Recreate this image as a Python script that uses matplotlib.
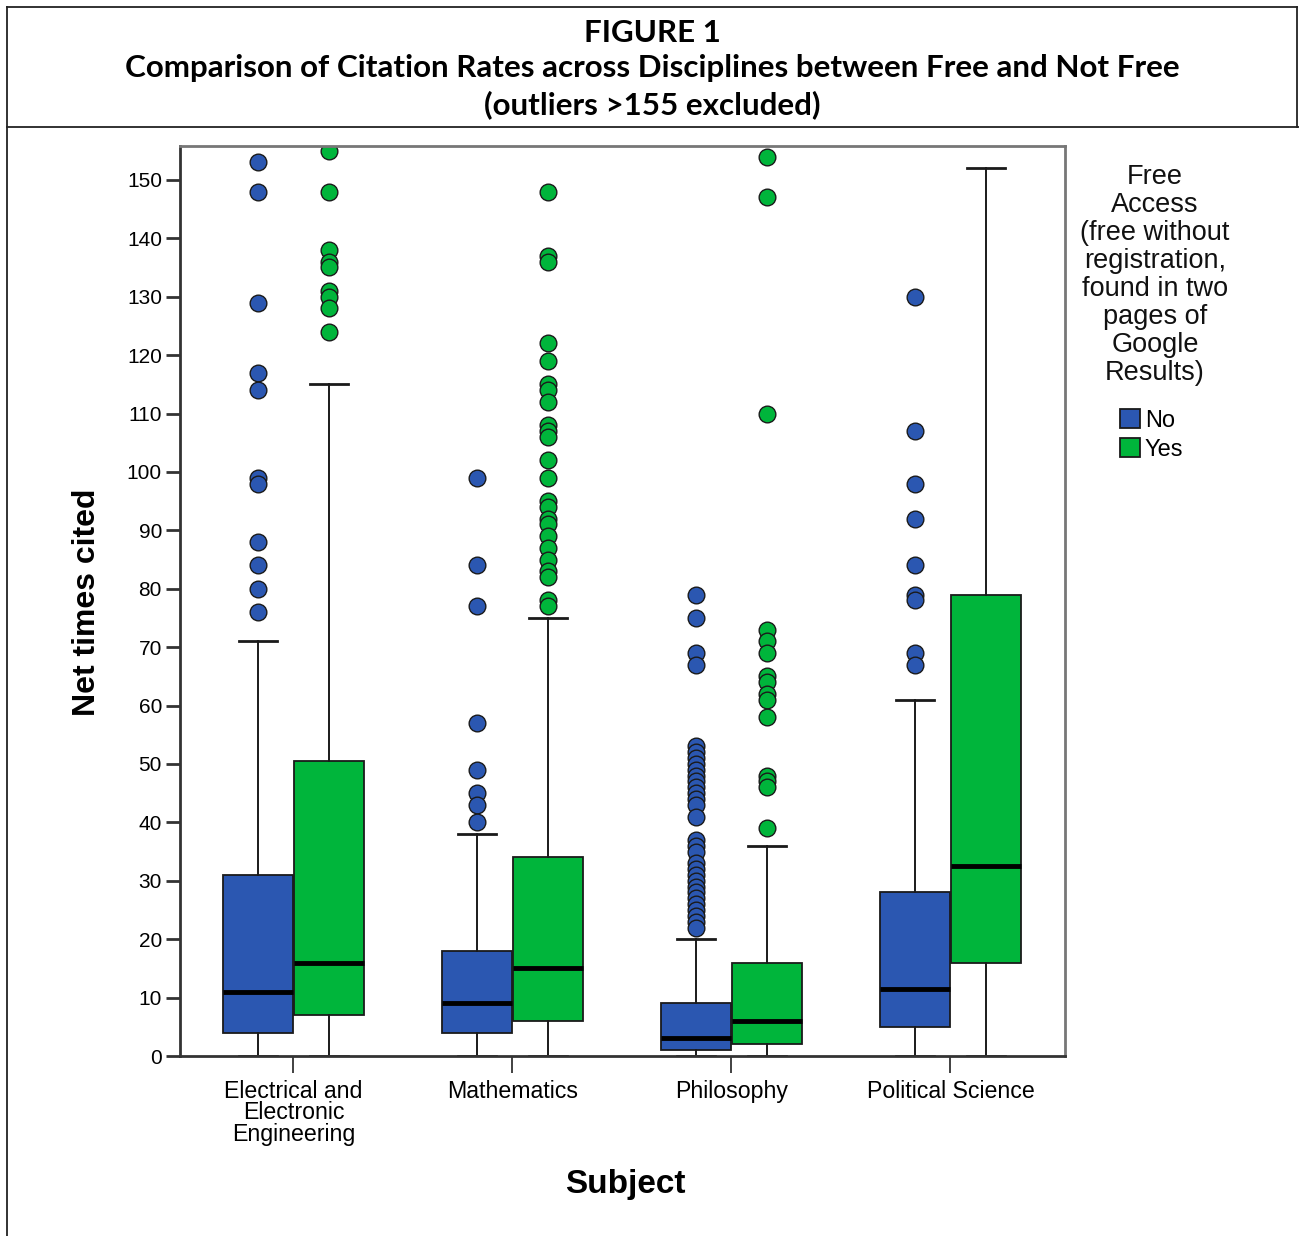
import matplotlib
matplotlib.use("Agg")
import matplotlib.pyplot as plt
from matplotlib.lines import Line2D
from matplotlib.patches import Patch

plt.rcParams.update({
    "font.family": ["Liberation Sans", "DejaVu Sans"],
})

# ── Data ─────────────────────────────────────────────────────────────────────
CATEGORIES = ["Electrical and\nElectronic\nEngineering", "Mathematics",
              "Philosophy", "Political Science"]

NO_Q1 = [4, 4, 1, 5]
NO_MED = [11, 9, 3, 11.5]
NO_Q3 = [31, 18, 9, 28]
NO_LO = [0, 0, 0, 0]
NO_HI = [71, 38, 20, 61]
NO_FLIERS = [
    [153, 148, 129, 117, 114, 99, 98, 88, 84, 80, 76],
    [99, 84, 77, 57, 49, 45, 43, 40],
    [79, 75, 69, 67, 53, 52, 51, 50, 49, 48, 47, 46, 45, 44, 43, 41,
     37, 36, 35, 33, 32, 31, 30, 29, 28, 27, 26, 25, 24, 23, 22],
    [130, 107, 98, 92, 84, 79, 78, 69, 67],
]

YES_Q1 = [7, 6, 2, 16]
YES_MED = [16, 15, 6, 32.5]
YES_Q3 = [50.5, 34, 16, 79]
YES_LO = [0, 0, 0, 0]
YES_HI = [115, 75, 36, 152]
YES_FLIERS = [
    [155, 148, 138, 136, 135, 131, 130, 128, 124],
    [148, 137, 136, 122, 119, 115, 114, 112, 108, 107, 106, 102, 99, 95,
     94, 92, 91, 89, 87, 85, 83, 82, 78, 77],
    [154, 147, 110, 73, 71, 69, 65, 64, 62, 61, 58, 48, 47, 46, 39],
    [],
]

SERIES = ["No", "Yes"]
LEGEND_TITLE = ("Free\nAccess\n(free without\nregistration,\nfound in two\n"
                "pages of\nGoogle\nResults)")
BLUE = "#2B57B1"
GREEN = "#00B53B"
EDGE = "#1a1a1a"


def make_stats(q1, med, q3, lo, hi, fliers):
    return [dict(q1=a, med=b, q3=c, whislo=d, whishi=e, fliers=f)
            for a, b, c, d, e, f in zip(q1, med, q3, lo, hi, fliers)]


stats_no = make_stats(NO_Q1, NO_MED, NO_Q3, NO_LO, NO_HI, NO_FLIERS)
stats_yes = make_stats(YES_Q1, YES_MED, YES_Q3, YES_LO, YES_HI, YES_FLIERS)

# ── Figure ───────────────────────────────────────────────────────────────────
W, H = 1299, 1236
fig = plt.figure(figsize=(W / 100, H / 100), dpi=100, facecolor="white")
ax = fig.add_axes([180 / W, 1 - 1056 / H, (1065 - 180) / W, (1056 - 146) / H])

OFFSET = 0.162
BOXW = 0.322
centers = list(range(len(CATEGORIES)))

for stats, color, off in ((stats_no, BLUE, -OFFSET), (stats_yes, GREEN, OFFSET)):
    ax.bxp(stats, positions=[c + off for c in centers], widths=BOXW,
           capwidths=0.17, patch_artist=True, manage_ticks=False,
           boxprops=dict(facecolor=color, edgecolor=EDGE, linewidth=1.3),
           medianprops=dict(color="black", linewidth=3.5),
           whiskerprops=dict(color=EDGE, linewidth=1.4),
           capprops=dict(color=EDGE, linewidth=2.0),
           flierprops=dict(marker="o", markersize=12, markerfacecolor=color,
                           markeredgecolor=EDGE, markeredgewidth=1.0,
                           linestyle="none"))

ax.set_xlim(-0.518, 3.523)
ax.set_ylim(0, 155.8)
ax.set_yticks(range(0, 151, 10))
ax.set_xticks(centers)
ax.set_xticklabels(CATEGORIES, fontsize=16.7, linespacing=0.92)
ax.tick_params(axis="y", direction="out", length=10, width=2.0,
               color="#333333", labelsize=15, pad=3)
ax.tick_params(axis="x", direction="out", length=12, width=1.3,
               color="#333333", pad=5)
for s in ("left", "bottom"):
    ax.spines[s].set_color("#333333")
    ax.spines[s].set_linewidth(2.0)
for s in ("top", "right"):
    ax.spines[s].set_color("#777777")
    ax.spines[s].set_linewidth(2.0)

fig.text(87 / W, 1 - 602 / H, "Net times cited", rotation=90,
         ha="center", va="center", fontsize=23, fontweight="bold")
fig.text(625 / W, 1 - 1185 / H, "Subject", ha="center", va="center",
         fontsize=24, fontweight="bold")

# Legend: title block as text, entries as a legend
fig.text(1155 / W, 1 - 164 / H, LEGEND_TITLE, ha="center", va="top",
         multialignment="center", fontsize=19.5, linespacing=1.1,
         color="#111111")
handles = [Patch(facecolor=BLUE, edgecolor=EDGE, linewidth=1.3),
           Patch(facecolor=GREEN, edgecolor=EDGE, linewidth=1.3)]
fig.legend(handles, SERIES, loc="upper left",
           bbox_to_anchor=(1120 / W, 1 - 409 / H), frameon=False,
           fontsize=17, borderpad=0, borderaxespad=0,
           handlelength=0.85, handleheight=0.85, handletextpad=0.2,
           labelspacing=0.28)

# Title block and frame
TITLE_FONT = ["Lato", "DejaVu Sans"]
fig.text(652 / W, 1 - 33 / H, "FIGURE 1", ha="center", va="center",
         fontsize=22.6, fontweight="bold", family=TITLE_FONT)
fig.text(652 / W, 1 - 68 / H,
         "Comparison of Citation Rates across Disciplines between Free and Not Free",
         ha="center", va="center", fontsize=22.6, fontweight="bold", family=TITLE_FONT)
fig.text(652 / W, 1 - 105 / H, "(outliers >155 excluded)", ha="center",
         va="center", fontsize=22.6, fontweight="bold", family=TITLE_FONT)

frame_kw = dict(color="#222222", linewidth=1.3, transform=fig.transFigure)
fig.add_artist(Line2D([7 / W, 1297 / W], [1 - 7 / H, 1 - 7 / H], **frame_kw))
fig.add_artist(Line2D([7 / W, 7 / W], [1 - 7 / H, 0], **frame_kw))
fig.add_artist(Line2D([1297 / W, 1297 / W], [1 - 7 / H, 1 - 127 / H], **frame_kw))
fig.add_artist(Line2D([7 / W, 1], [1 - 127 / H, 1 - 127 / H], **frame_kw))

fig.savefig("out.png", dpi=100, facecolor="white")
